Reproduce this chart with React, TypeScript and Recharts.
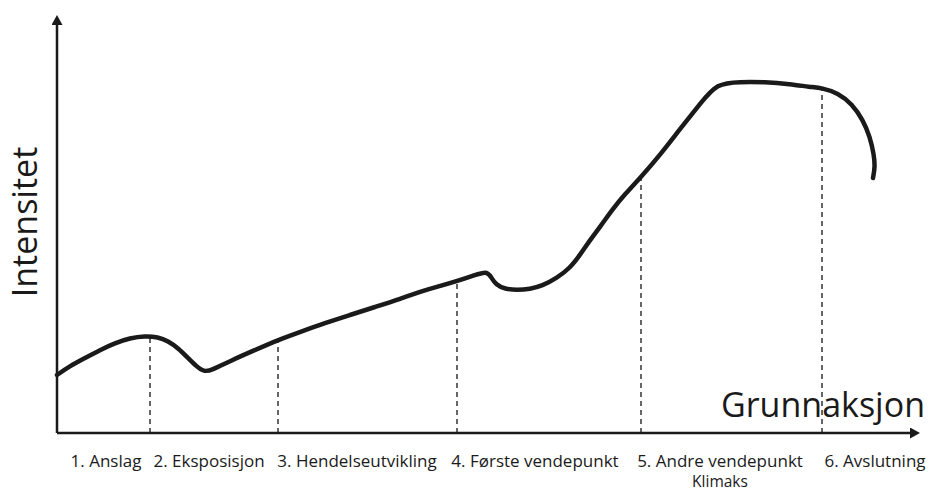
import { LineChart, Line, XAxis, YAxis, ReferenceLine, Label } from 'recharts'

// story progress (x) and intensity (y)
const storyTime = [
  0, 13, 28, 43, 58, 73, 88, 101, 111, 121, 131, 139, 147, 155, 173, 198, 221, 243, 268, 293,
  318, 343, 368, 383, 400, 418, 430, 434, 439, 448, 460, 473, 485, 500, 513, 523, 533, 543,
  555, 568, 584, 603, 623, 643, 660, 683, 708, 733, 753, 765, 781, 795, 806, 813, 817, 818, 816,
]
const intensity = [
  58, 67, 75, 83, 90, 95, 97, 96, 92, 85, 75, 67, 61, 63, 72, 83, 93, 101, 110, 118,
  126, 134, 143, 147, 152, 158, 162, 156, 148, 144, 143, 144, 147, 155, 165, 178, 193, 206,
  223, 239, 256, 278, 304, 329, 350, 351, 351, 349, 346, 345, 340, 329, 313, 296, 278, 266, 255,
]

// dashed markers: where each phase ends on the curve
const markerTime = [93, 221, 400, 584, 765]
const markerIntensity = [96, 93, 152, 256, 345]

// phase labels and their centres on the time axis
const phaseTicks = [49, 152, 300, 478, 663, 818]
const phaseLabels = [
  ['1. Anslag'],
  ['2. Eksposisjon'],
  ['3. Hendelseutvikling'],
  ['4. Første vendepunkt'],
  ['5. Andre vendepunkt', 'Klimaks'],
  ['6. Avslutning'],
]

const data = storyTime.map((t, i) => ({ time: t, intensity: intensity[i] }))
const markers = markerTime.map((t, i) => ({ time: t, intensity: markerIntensity[i] }))

const FONT = '"Open Sans", sans-serif'
const INK = '#1a1a1a'

function PhaseTick({ x, y, payload }: any) {
  const idx = phaseTicks.indexOf(payload.value)
  const lines = phaseLabels[idx] ?? []
  return (
    <g>
      {lines.map((l, i) => (
        <text
          key={i}
          x={x}
          y={y + 26 + i * 20}
          textAnchor="middle"
          fontFamily={FONT}
          fontSize={i === 0 ? 17 : 15.5}
          fill={INK}
        >
          {l}
        </text>
      ))}
    </g>
  )
}

export default function App() {
  return (
    <div style={{ position: 'fixed', left: 0, top: 0, width: 928, height: 491, background: '#fff' }}>
      <svg width={0} height={0} style={{ position: 'absolute' }}>
        <defs>
          <marker
            id="arrowHead"
            viewBox="0 0 10 11"
            refX={0}
            refY={5.5}
            markerWidth={10}
            markerHeight={11}
            markerUnits="userSpaceOnUse"
            orient="auto-start-reverse"
          >
            <path d="M0,0 L10,5.5 L0,11 z" fill={INK} />
          </marker>
        </defs>
      </svg>
      <LineChart width={928} height={491} data={data} margin={{ top: 25, right: 18, bottom: 0, left: 0 }}>
        <XAxis
          dataKey="time"
          type="number"
          domain={[0, 853]}
          ticks={phaseTicks}
          interval={0}
          tickLine={false}
          tick={<PhaseTick />}
          height={58}
          axisLine={{ stroke: INK, strokeWidth: 2.5, markerEnd: 'url(#arrowHead)' }}
        >
          <Label
            content={({ viewBox }: any) => (
              <text
                x={viewBox.x + viewBox.width + 15}
                y={viewBox.y - 16}
                textAnchor="end"
                fontFamily={FONT}
                fontSize={34}
                fill={INK}
              >
                Grunnaksjon
              </text>
            )}
          />
        </XAxis>
        <YAxis
          type="number"
          domain={[0, 408]}
          width={57}
          tick={false}
          tickLine={false}
          axisLine={{ stroke: INK, strokeWidth: 2.5, markerStart: 'url(#arrowHead)' }}
        >
          <Label
            content={({ viewBox }: any) => {
              const cx = 37
              const cy = viewBox.y + viewBox.height / 2 - 7
              return (
                <text
                  x={cx}
                  y={cy}
                  transform={`rotate(-90, ${cx}, ${cy})`}
                  textAnchor="middle"
                  fontFamily={FONT}
                  fontSize={34}
                  fill={INK}
                >
                  Intensitet
                </text>
              )
            }}
          />
        </YAxis>
        {markers.map((m) => (
          <ReferenceLine
            key={m.time}
            segment={[
              { x: m.time, y: 0 },
              { x: m.time, y: m.intensity },
            ]}
            stroke="#333"
            strokeWidth={1.5}
            strokeDasharray="5 4"
          />
        ))}
        <Line
          dataKey="intensity"
          type="basis"
          stroke={INK}
          strokeWidth={4.5}
          strokeLinecap="round"
          strokeLinejoin="round"
          dot={false}
          activeDot={false}
          isAnimationActive={false}
        />
      </LineChart>
    </div>
  )
}
